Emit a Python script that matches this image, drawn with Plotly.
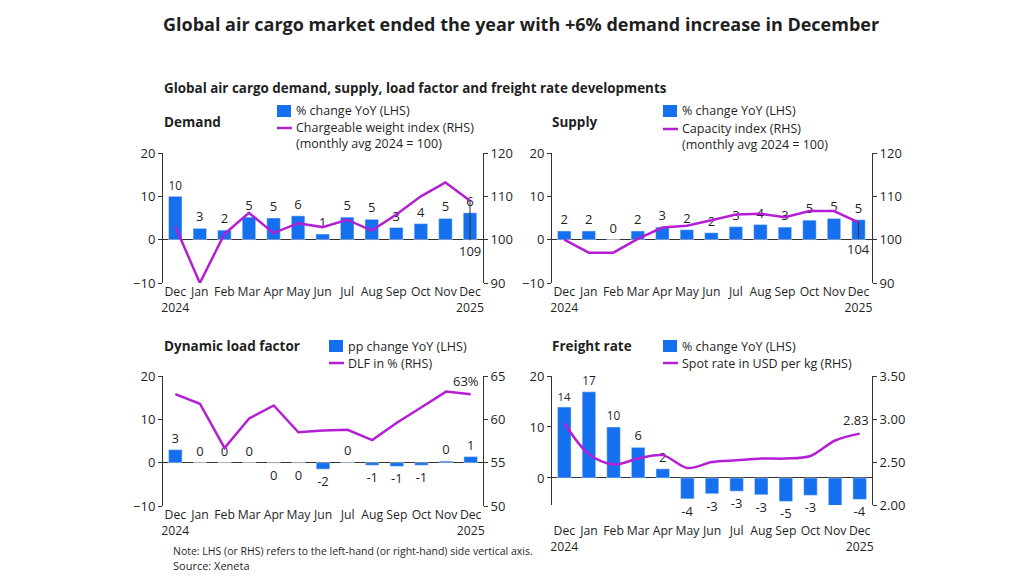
import plotly.graph_objects as go

# ---------------- data ----------------
months = ["Dec<br>2024", "Jan", "Feb", "Mar", "Apr", "May", "Jun", "Jul",
          "Aug", "Sep", "Oct", "Nov", "Dec<br>2025"]

dem_yoy = [10.0, 2.6, 2.2, 5.2, 5.0, 5.5, 1.3, 5.2, 4.7, 2.8, 3.7, 4.9, 6.2]
dem_lbl = ["10", "3", "2", "5", "5", "6", "1", "5", "5", "3", "4", "5", "6"]
dem_idx = [103.1, 90.0, 101.3, 106.2, 101.5, 103.8, 102.9, 104.6, 102.1, 105.8, 110.0, 113.2, 109.0]

sup_yoy = [2.0, 2.0, 0.0, 2.0, 2.9, 2.3, 1.6, 3.0, 3.5, 2.9, 4.5, 4.9, 4.6]
sup_lbl = ["2", "2", "0", "2", "3", "2", "2", "3", "4", "3", "5", "5", "5"]
sup_idx = [100.0, 97.0, 97.0, 100.2, 102.8, 103.2, 104.5, 105.8, 106.0, 105.2, 106.6, 106.6, 104.0]

dlf_pp = [3.0, 0.02, 0.02, 0.02, -0.05, -0.05, -1.5, 0.1, -0.6, -0.85, -0.6, 0.35, 1.4]
dlf_lbl = ["3", "0", "0", "0", "0", "0", "-2", "0", "-1", "-1", "-1", "0", "1"]
dlf_pct = [62.9, 61.8, 56.7, 60.1, 61.6, 58.5, 58.7, 58.8, 57.6, 59.6, 61.4, 63.2, 62.9]

frt_yoy = [13.9, 16.9, 10.0, 6.0, 1.8, -4.1, -3.1, -2.6, -3.3, -4.6, -3.4, -5.4, -4.2]
frt_lbl = ["14", "17", "10", "6", "2", "-4", "-3", "-3", "-3", "-5", "-3", "-5", "-4"]
frt_spot = [2.95, 2.59, 2.47, 2.54, 2.58, 2.43, 2.50, 2.52, 2.54, 2.54, 2.57, 2.75, 2.83]

# ---------------- style ----------------
W, H = 1024, 577
FONT = "Open Sans"
TXT = "#1f1f1f"
AX = "#333333"
BLUE = "#1570EF"
PURPLE = "#B51FD3"


def px(x):
    return x / W


def py(y):
    return 1 - y / H


fig = go.Figure()

panels = [
    dict(bar=dem_yoy, lbl=dem_lbl, line=dem_idx, x=(163, 483), y=(153, 283),
         lr=[-10, 20], lt=[-10, 0, 10, 20], rr=[90, 120], rt=[90, 100, 110, 120], fmt="", so=0, spline=False),
    dict(bar=sup_yoy, lbl=sup_lbl, line=sup_idx, x=(552, 872), y=(153, 283),
         lr=[-10, 20], lt=[-10, 0, 10, 20], rr=[90, 120], rt=[90, 100, 110, 120], fmt="", so=0, spline=False),
    dict(bar=dlf_pp, lbl=dlf_lbl, line=dlf_pct, x=(163, 483), y=(376, 506),
         lr=[-10, 20], lt=[-10, 0, 10, 20], rr=[50, 65], rt=[50, 55, 60, 65], fmt="", so=0, spline=False),
    dict(bar=frt_yoy, lbl=frt_lbl, line=frt_spot, x=(552, 872), y=(376, 505),
         lr=[-5.3, 20], lt=[0, 10, 20], rr=[2.0, 3.5], rt=[2.0, 2.5, 3.0, 3.5], fmt=".2f", so=17, spline=True),
]

layout_axes = {}
for i, p in enumerate(panels, start=1):
    xa = "x" if i == 1 else f"x{i}"
    yl_n = 2 * i - 1
    yr_n = 2 * i
    yl = "y" if yl_n == 1 else f"y{yl_n}"
    yr = f"y{yr_n}"
    xdom = [px(p["x"][0]), px(p["x"][1])]
    ydom = [py(p["y"][1]), py(p["y"][0])]

    fig.add_trace(go.Bar(
        x=months, y=p["bar"], xaxis=xa, yaxis=yl, marker_color=BLUE, width=0.55,
        text=p["lbl"], textposition="outside", cliponaxis=False,
        textfont=dict(family=FONT, size=13, color=TXT), showlegend=False,
        hoverinfo="x+y"))
    fig.add_trace(go.Scatter(
        x=months, y=p["line"], xaxis=xa, yaxis=yr, mode="lines",
        line=dict(color=PURPLE, width=2.5, shape="spline" if p["spline"] else "linear", smoothing=0.9),
        showlegend=False, cliponaxis=False))

    xkey = "xaxis" if i == 1 else f"xaxis{i}"
    ylkey = "yaxis" if yl_n == 1 else f"yaxis{yl_n}"
    yrkey = f"yaxis{yr_n}"
    layout_axes[xkey] = dict(domain=xdom, anchor=yl, type="category", tickangle=0,
                             showline=False, ticks="", showgrid=False, zeroline=False,
                             automargin=False,
                             tickfont=dict(family=FONT, size=12.2, color=TXT),
                             ticklabelstandoff=p["so"], fixedrange=True)
    layout_axes[ylkey] = dict(domain=ydom, anchor=xa, range=p["lr"], tickvals=p["lt"],
                              showline=True, linecolor=AX, linewidth=1, ticks="outside",
                              ticklen=4, tickcolor=AX, showgrid=False, zeroline=True,
                              zerolinecolor=AX, zerolinewidth=1, automargin=False,
                              tickfont=dict(family=FONT, size=13, color=TXT))
    layout_axes[yrkey] = dict(domain=ydom, anchor=xa, overlaying=yl, side="right",
                              range=p["rr"], tickvals=p["rt"], tickformat=p["fmt"],
                              showline=True, linecolor=AX, linewidth=1, ticks="outside",
                              ticklen=4, tickcolor=AX, showgrid=False, zeroline=False,
                              automargin=False,
                              tickfont=dict(family=FONT, size=13, color=TXT))

fig.update_layout(**layout_axes)

annotations = []
shapes = []


def text(x, y, s, size=11, bold=False, anchor="left"):
    annotations.append(dict(
        x=px(x), y=py(y), xref="paper", yref="paper", xanchor=anchor, yanchor="middle",
        text=f"<b>{s}</b>" if bold else s, showarrow=False, align="left",
        font=dict(family=FONT, size=size, color=TXT)))


# titles
text(161, 24, "Global air cargo market ended the year with +6% demand increase in December", 18, True)
text(162, 88, "Global air cargo demand, supply, load factor and freight rate developments", 13.4, True)
text(162, 122, "Demand", 13.5, True)
text(550, 122, "Supply", 13.5, True)
text(162, 346, "Dynamic load factor", 13.5, True)
text(550, 346, "Freight rate", 13.5, True)


# legends (drawn manually)
def legend(x0, ybar, yline, bar_txt, line_txt, line_y_txt=None):
    shapes.append(dict(type="rect", xref="paper", yref="paper",
                       x0=px(x0), x1=px(x0 + 14), y0=py(ybar + 6), y1=py(ybar - 6),
                       fillcolor=BLUE, line=dict(width=0)))
    shapes.append(dict(type="line", xref="paper", yref="paper",
                       x0=px(x0), x1=px(x0 + 15), y0=py(yline), y1=py(yline),
                       line=dict(color=PURPLE, width=2.5)))
    text(x0 + 17, ybar, bar_txt, 12.5)
    ty = line_y_txt if line_y_txt is not None else yline
    text(x0 + 17, ty, line_txt, 12.5)


legend(277, 111, 128, "% change YoY (LHS)",
       "Chargeable weight index (RHS)<br>(monthly avg 2024 = 100)", 135)
legend(663, 111, 129, "% change YoY (LHS)",
       "Capacity index (RHS)<br>(monthly avg 2024 = 100)", 136)
legend(329, 346, 363, "pp change YoY (LHS)", "DLF in % (RHS)")
legend(663, 346, 363, "% change YoY (LHS)", "Spot rate in USD per kg (RHS)")

# data callouts
annotations.append(dict(x=months[-1], y=dem_idx[-1], xref="x", yref="y2", text="109",
                        showarrow=True, arrowhead=0, arrowwidth=1, arrowcolor=AX,
                        ax=0, ay=50, standoff=0, font=dict(family=FONT, size=13, color=TXT)))
annotations.append(dict(x=months[-1], y=sup_idx[-1], xref="x2", yref="y4", text="104",
                        showarrow=True, arrowhead=0, arrowwidth=1, arrowcolor=AX,
                        ax=0, ay=27, standoff=0, font=dict(family=FONT, size=13, color=TXT)))
annotations.append(dict(x=months[-1], y=dlf_pct[-1], xref="x3", yref="y6", text="63%",
                        showarrow=False, yanchor="bottom", xshift=-5, yshift=2,
                        font=dict(family=FONT, size=13, color=TXT)))
annotations.append(dict(x=months[-1], y=frt_spot[-1], xref="x4", yref="y8", text="2.83",
                        showarrow=False, yanchor="bottom", xshift=-4, yshift=3,
                        font=dict(family=FONT, size=13, color=TXT)))

# notes
text(171, 551, "Note: LHS (or RHS) refers to the left-hand (or right-hand) side vertical axis.", 10.5)
text(171, 565, "Source: Xeneta", 11)

fig.update_layout(
    width=W, height=H, margin=dict(l=0, r=0, t=0, b=0, pad=0, autoexpand=False),
    paper_bgcolor="white", plot_bgcolor="white",
    bargap=0.45, showlegend=False,
    annotations=annotations, shapes=shapes,
    font=dict(family=FONT, color=TXT),
)

fig.write_html("out.html")
